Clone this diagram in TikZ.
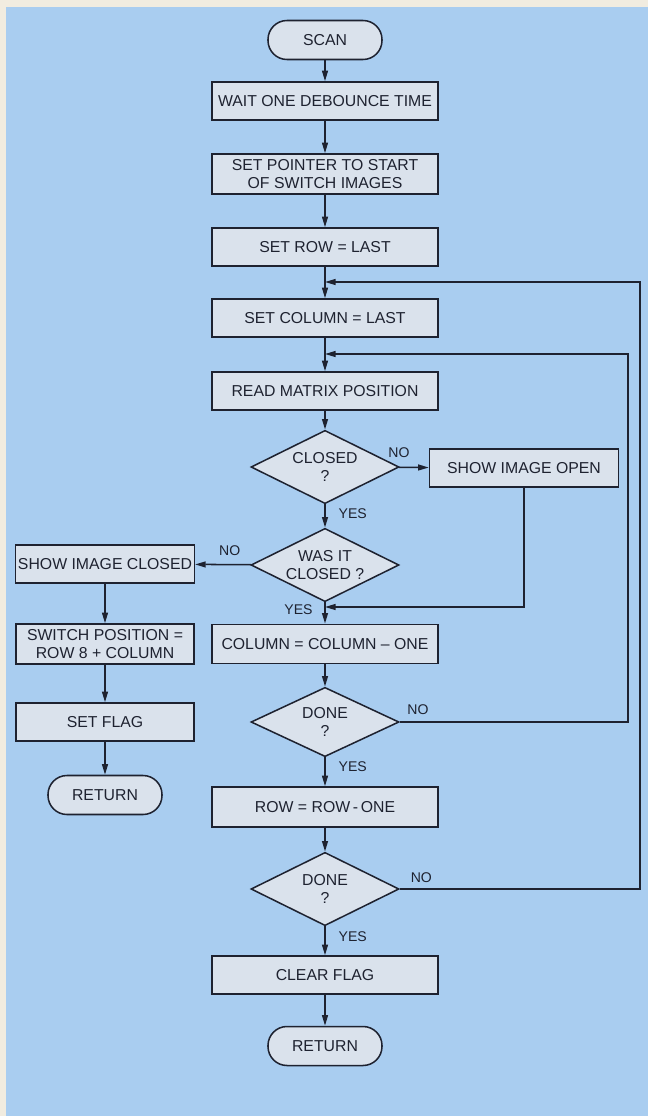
\documentclass[tikz,border=0pt]{standalone}
\usepackage{fontspec}
\setsansfont{Liberation Sans}
\usetikzlibrary{arrows.meta, positioning, shapes.geometric, calc}
\definecolor{panelblue}{HTML}{A9CDF0}
\definecolor{boxgray}{HTML}{DAE2EC}
\definecolor{inkdark}{HTML}{1E2230}
\definecolor{paper}{HTML}{F1ECE0}

\begin{document}
\begin{tikzpicture}[
    x=0.03cm, y=-0.03cm,
    every node/.style={font=\sffamily\fontsize{13.5}{15.5}\selectfont, text=inkdark},
    box/.style={draw=inkdark, line width=1.3pt, fill=boxgray, minimum width=6.78cm, minimum height=1.14cm, inner sep=2pt, align=center},
    term/.style={draw=inkdark, line width=1.3pt, fill=boxgray, rounded corners=0.57cm, minimum width=3.42cm, minimum height=1.17cm},
    dec/.style={draw=inkdark, line width=1.3pt, fill=boxgray, diamond, aspect=2, minimum width=4.44cm, minimum height=2.2cm, inner sep=0pt, align=center},
    arr/.style={-{Triangle[length=9pt, width=5pt]}, line width=1.3pt, draw=inkdark},
    lbl/.style={font=\sffamily\fontsize{12}{14}\selectfont, inner sep=1pt},
]
% Page and panel
\fill[paper] (0,0) rectangle (648,1116);
\fill[panelblue] (6,7) rectangle (648,1116);
\useasboundingbox (0,0) rectangle (648,1116);

% Main column
\node[term] (scan) at (325,40) {SCAN};
\node[box] (wait) at (325,101) {WAIT ONE DEBOUNCE TIME};
\node[box, minimum height=1.2cm] (ptr) at (325,174) {SET POINTER TO START\\OF SWITCH IMAGES};
\node[box] (rowlast) at (325,247) {SET ROW = LAST};
\node[box] (collast) at (325,318) {SET COLUMN = LAST};
\node[box] (read) at (325,391) {READ MATRIX POSITION};
\node[dec] (closed) at (325,467) {CLOSED\\?};
\node[dec] (wasclosed) at (325,565) {WAS IT\\CLOSED ?};
\node[box, minimum height=1.18cm] (colcol) at (325,644) {COLUMN = COLUMN -- ONE};
\node[dec, minimum height=2.08cm] (done1) at (325,722) {DONE\\?};
\node[box, minimum height=1.2cm] (rowrow) at (325,807) {ROW = ROW\,-\,ONE};
\node[dec] (done2) at (325,889) {DONE\\?};
\node[box] (clrflag) at (325,975) {CLEAR FLAG};
\node[term] (ret2) at (325,1046) {RETURN};

% Side boxes
\node[box, minimum width=5.67cm] (open) at (524,468) {SHOW IMAGE OPEN};
\node[box, minimum width=5.34cm] (shclosed) at (105,564) {SHOW IMAGE CLOSED};
\node[box, minimum width=5.34cm, minimum height=1.2cm] (swpos) at (105,644) {SWITCH POSITION =\\ROW 8 + COLUMN};
\node[box, minimum width=5.34cm] (setflag) at (105,722) {SET FLAG};
\node[term] (ret1) at (105,795) {RETURN};

% Merge points and return lines
\coordinate (m1) at (325,282);
\coordinate (m2) at (325,354);
\coordinate (m3) at (325,607);
\coordinate (rin) at (628,354);
\coordinate (rout) at (640,282);

% Arrows
\draw[arr] (scan) -- (wait);
\draw[arr] (wait) -- (ptr);
\draw[arr] (ptr) -- (rowlast);
\draw[arr] (rowlast) -- (collast);
\draw[arr] (collast) -- (read);
\draw[arr] (read) -- (closed);
\draw[arr] (closed) -- (open) node[lbl, at start, above=7pt] {NO};
\draw[arr] (closed) -- (wasclosed) node[lbl, pos=0.4, right=10pt] {YES};
\draw[arr] (open.south) |- (m3);
\draw[arr] (wasclosed) -- (shclosed) node[lbl, pos=0.38, above=6pt] {NO};
\draw[arr] (wasclosed) -- (colcol) node[lbl, pos=0.36, left=9pt] {YES};
\draw[arr] (shclosed) -- (swpos);
\draw[arr] (swpos) -- (setflag);
\draw[arr] (setflag) -- (ret1);
\draw[arr] (colcol) -- (done1);
\draw[arr] (done1.east) -- (done1.east -| rin) node[lbl, pos=0.08, above=5pt] {NO} -- (rin) -- (m2);
\draw[arr] (done1) -- (rowrow) node[lbl, pos=0.33, right=10pt] {YES};
\draw[arr] (rowrow) -- (done2);
\draw[arr] (done2.east) -- (done2.east -| rout) node[lbl, pos=0.09, above=4pt] {NO} -- (rout) -- (m1);
\draw[arr] (done2) -- (clrflag) node[lbl, pos=0.37, right=10pt] {YES};
\draw[arr] (clrflag) -- (ret2);

\end{tikzpicture}
\end{document}
